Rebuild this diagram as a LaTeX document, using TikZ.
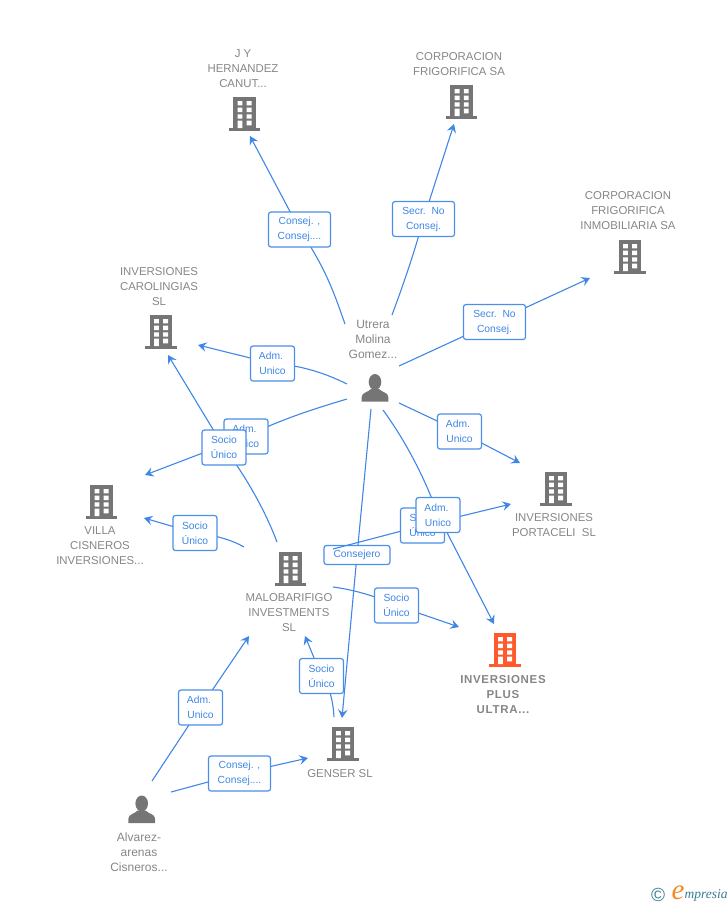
\documentclass[tikz,border=0pt]{standalone}
\usepackage{fontspec}
\setmainfont{Liberation Sans}
\newfontfamily\logofont{Liberation Serif}[ItalicFont={Liberation Serif Italic}]
\usetikzlibrary{arrows.meta}
\pgfdeclarelayer{edges}\pgfdeclarelayer{boxlow}\pgfdeclarelayer{edgehigh}
\pgfsetlayers{edges,boxlow,edgehigh,main}
\definecolor{linkblue}{HTML}{3F86E6}
\definecolor{boxblue}{HTML}{4A8FE8}
\definecolor{icongray}{HTML}{757575}
\definecolor{namegray}{HTML}{868686}
\definecolor{hotorange}{HTML}{FF5A2B}
\definecolor{logoteal}{HTML}{3A7C92}
\definecolor{logoorange}{HTML}{F58A1F}
\tikzset{
  x=1pt,y=-1pt,
  lnk/.style={draw=linkblue,line width=1.1pt},
  lnkhead/.style={lnk,-{Stealth[length=8.5pt,width=9.5pt,inset=3.2pt]}},
  relbox/.style={draw=boxblue,fill=white,line width=1.2pt,rounded corners=2.5pt,
    text=linkblue,font=\fontsize{10.3}{15}\selectfont,align=center,inner sep=0pt,
    minimum width=44pt,minimum height=35pt},
  widebox/.style={relbox,minimum width=62pt},
  nametext/.style={text=namegray,font=\fontsize{11.4}{15}\selectfont,align=center,inner sep=0pt},
  pics/bldg/.style={code={
    \fill[#1] (-11.3,0) rectangle (11.3,31);
    \fill[#1] (-15.7,31) rectangle (15.7,33.5);
    \fill[white] (-7,4) rectangle (-2.2,8.3) (2.2,4) rectangle (7,8.3);
    \fill[white] (-7,10.7) rectangle (-2.2,15) (2.2,10.7) rectangle (7,15);
    \fill[white] (-7,17.3) rectangle (-2.2,21.7) (2.2,17.3) rectangle (7,21.7);
    \fill[white] (-7,23.7) rectangle (-2.2,31) (2.2,23.7) rectangle (7,28.3);
  }},
  pics/persona/.style={code={
    \fill[icongray] (0,8) ellipse[x radius=6.3,y radius=8];
    \fill[icongray] (-13.3,27.7) -- (-13.3,23) .. controls (-13.3,18.5) and (-7,18.5) .. (-4,15)
      -- (4,15) .. controls (7,18.5) and (13.3,18.5) .. (13.3,23) -- (13.3,27.7) -- cycle;
  }},
}
\begin{document}
\begin{tikzpicture}
\path[use as bounding box] (0,0) rectangle (728,905);

% icons
\pic at (244.5,97) {bldg=icongray};
\pic at (461.7,85) {bldg=icongray};
\pic at (630,240) {bldg=icongray};
\pic at (161,315) {bldg=icongray};
\pic at (101.5,485) {bldg=icongray};
\pic at (556,472) {bldg=icongray};
\pic at (290.5,552) {bldg=icongray};
\pic at (505,633) {bldg=hotorange};
\pic at (343,727) {bldg=icongray};
\pic at (375,374) {persona};
\pic at (141.7,795.5) {persona};

% names
\node[nametext] (jy) at (243,69) {J Y\\HERNANDEZ\\CANUT...};
\node[nametext] (frig) at (459,64) {CORPORACION\\FRIGORIFICA SA};
\node[nametext] (inmo) at (628,211) {CORPORACION\\FRIGORIFICA\\INMOBILIARIA SA};
\node[nametext] (caro) at (159,287) {INVERSIONES\\CAROLINGIAS\\SL};
\node[nametext,font=\fontsize{12}{15}\selectfont] (utrera) at (373,339.5) {Utrera\\Molina\\Gomez...};
\node[nametext] (villa) at (100,546) {VILLA\\CISNEROS\\INVERSIONES...};
\node[nametext] (porta) at (554,525.5) {INVERSIONES\\PORTACELI\ \ SL};
\node[nametext] (malo) at (289,613) {MALOBARIFIGO\\INVESTMENTS\\SL};
\node[nametext,font=\fontsize{11.5}{15}\selectfont\bfseries\addfontfeatures{LetterSpace=6}] (plus) at (503,694.5) {INVERSIONES\\PLUS\\ULTRA...};
\node[nametext] (genser) at (340,773.5) {GENSER SL};
\node[nametext,font=\fontsize{12}{15}\selectfont] (alvarez) at (139,852) {Alvarez-\\arenas\\Cisneros...};

% free ends of the connectors
\coordinate (u1) at (345,324); \coordinate (jyin) at (250,136);
\coordinate (u2) at (392,315); \coordinate (frigin) at (454,124);
\coordinate (u3) at (399,366); \coordinate (inmoin) at (590,278);
\coordinate (u4) at (347,384); \coordinate (caroinb) at (198,345);
\coordinate (u5) at (347,399); \coordinate (villainb) at (145,475);
\coordinate (m1) at (277,542); \coordinate (caroin) at (168,355);
\coordinate (m2) at (244,547); \coordinate (villain) at (144,518);
\coordinate (u6) at (399,403); \coordinate (portain) at (520,463);
\coordinate (u7) at (383,410); \coordinate (plusin) at (494,624);
\coordinate (u8) at (371,409); \coordinate (genin) at (342,718);
\coordinate (c1) at (333,549); \coordinate (portainb) at (511,504);
\coordinate (m3) at (333,587); \coordinate (plusinb) at (459,627);
\coordinate (g1) at (334,717); \coordinate (maloin) at (305,636);
\coordinate (a1) at (152,781); \coordinate (maloinb) at (249,636);
\coordinate (a2) at (171,792); \coordinate (genb) at (308,758);

% relation boxes
\node[widebox] (b1) at (299.5,229.5) {Consej. ,\\Consej....};
\node[widebox] (b2) at (423.5,219) {Secr.\ \ No\\Consej.};
\node[widebox] (b3) at (494.5,322) {Secr.\ \ No\\Consej.};
\node[relbox] (b4) at (272.5,363.5) {Adm.\hspace*{3pt}\\Unico};
\node[relbox] (b5) at (246,436.5) {Adm.\hspace*{3pt}\\Unico};
\node[relbox] (b6) at (224,447.5) {Socio\\Único};
\node[relbox] (b7) at (195,533) {Socio\\Único};
\node[relbox] (b8) at (459.5,431.5) {Adm.\hspace*{3pt}\\Unico};
\begin{pgfonlayer}{boxlow}
\node[relbox,minimum width=66pt,minimum height=19pt] (b10) at (357,555) {Consejero};
\end{pgfonlayer}
\node[relbox] (b11) at (422.5,525.5) {Socio\\Único};
\node[relbox] (b9) at (438,515) {Adm.\hspace*{3pt}\\Unico};
\node[relbox] (b12) at (396.5,605.5) {Socio\\Único};
\node[relbox] (b13) at (321.5,676) {Socio\\Único};
\node[relbox] (b14) at (200.5,707.5) {Adm.\hspace*{3pt}\\Unico};
\node[widebox] (b15) at (239.5,773.5) {Consej. ,\\Consej....};

% connectors
\begin{pgfonlayer}{edges}
\draw[lnk] (u1) .. controls (335,296) and (327,270) .. (b1.center);
\draw[lnkhead] (b1.center) -- (jyin);
\draw[lnk] (u2) .. controls (405,280) and (415,250) .. (b2.center);
\draw[lnkhead] (b2.center) -- (frigin);
\draw[lnk] (u3) -- (b3.center);
\draw[lnkhead] (b3.center) -- (inmoin);
\draw[lnk] (u4) .. controls (325,373) and (300,365) .. (b4.center);
\draw[lnkhead] (b4.center) -- (caroinb);
\draw[lnk] (u5) .. controls (310,410) and (280,420) .. (b5.center);
\draw[lnkhead] (b5.center) -- (villainb);
\draw[lnk] (m1) .. controls (265,510) and (245,475) .. (b6.center);
\draw[lnkhead] (b6.center) -- (caroin);
\draw[lnk] (m2) .. controls (232,540) and (215,535) .. (b7.center);
\draw[lnkhead] (b7.center) -- (villain);
\draw[lnk] (u6) -- (b8.center);
\draw[lnkhead] (b8.center) -- (portain);
\draw[lnk] (u7) .. controls (405,440) and (425,478) .. (b9.center);
\draw[lnkhead] (b9.center) -- (plusin);
\draw[lnk] (u8) -- (b10.center);
\draw[lnkhead] (b10.center) -- (genin);
\draw[lnk] (m3) .. controls (355,590) and (375,596) .. (b12.center);
\draw[lnkhead] (b12.center) -- (plusinb);
\draw[lnk] (g1) .. controls (333,702) and (331,690) .. (b13.center);
\draw[lnkhead] (b13.center) -- (maloin);
\draw[lnk] (a1) -- (b14.center);
\draw[lnkhead] (b14.center) -- (maloinb);
\draw[lnk] (a2) -- (b15.center);
\draw[lnkhead] (b15.center) -- (genb);
\draw[lnkhead] (b11.center) -- (portainb);
\end{pgfonlayer}
\begin{pgfonlayer}{edgehigh}
\draw[lnk] (c1) -- (b11.center);
\end{pgfonlayer}

% logo
\node[inner sep=0pt,text=logoteal,font=\fontsize{19}{19}\selectfont] (copy) at (658,894.5) {©};
\node[inner sep=0pt,text=logoorange,font=\logofont\itshape\fontsize{29}{29}\selectfont] (loge) at (678,893) {e};
\node[inner sep=0pt,anchor=west,text=logoteal,font=\logofont\itshape\fontsize{13.5}{13.5}\selectfont] (logt) at (684.5,895) {mpresia};
\end{tikzpicture}
\end{document}
